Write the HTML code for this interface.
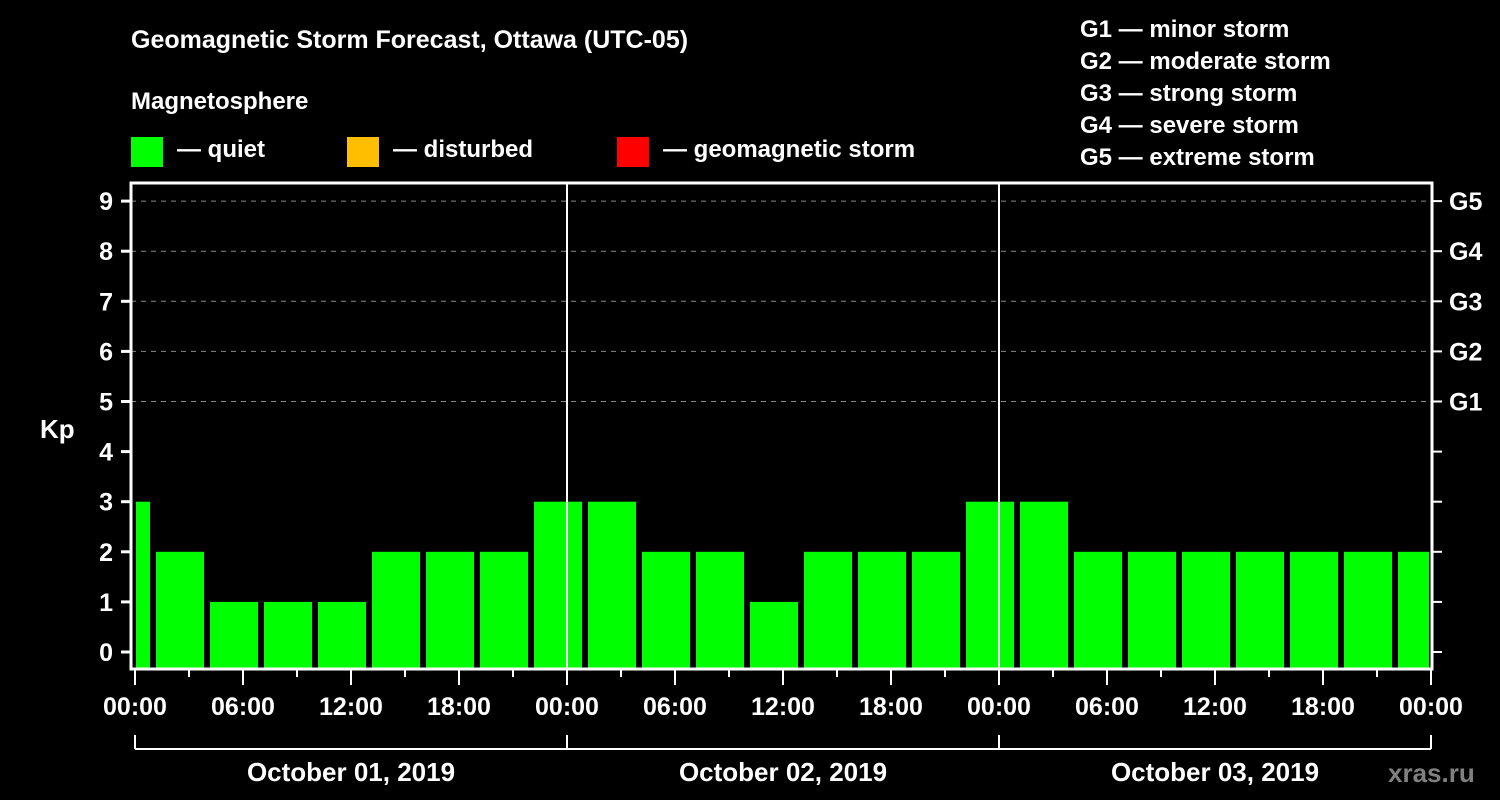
<!DOCTYPE html>
<html><head><meta charset="utf-8"><style>
html,body{margin:0;padding:0;background:#000;width:1500px;height:800px;overflow:hidden}
svg{display:block;font-family:"Liberation Sans",Arial,sans-serif;font-weight:bold}
</style></head><body>
<svg id="chart" width="1500" height="800" viewBox="0 0 1500 800">
<text x="131" y="48" fill="#fff" font-size="25">Geomagnetic Storm Forecast, Ottawa (UTC-05)</text>
<text x="131" y="109" fill="#fff" font-size="24">Magnetosphere</text>
<g><rect x="131" y="137" width="32" height="30" fill="#00ff00"/><text x="177" y="157" fill="#fff" font-size="24">— quiet</text></g>
<g><rect x="347" y="137" width="32" height="30" fill="#ffbf00"/><text x="393" y="157" fill="#fff" font-size="24">— disturbed</text></g>
<g><rect x="617" y="137" width="32" height="30" fill="#ff0000"/><text x="663" y="157" fill="#fff" font-size="24">— geomagnetic storm</text></g>
<g fill="#fff" font-size="24">
<text x="1080" y="37">G1 — minor storm</text>
<text x="1080" y="69">G2 — moderate storm</text>
<text x="1080" y="101">G3 — strong storm</text>
<text x="1080" y="133">G4 — severe storm</text>
<text x="1080" y="165">G5 — extreme storm</text>
</g>
<text x="40" y="438" fill="#fff" font-size="26">Kp</text>
<text x="1388" y="782" fill="#808080" font-size="26">xras.ru</text>
<g id="plot"></g>
</svg>
<script>
const kpValues=[3,2,1,1,1,2,2,2,3,3,2,2,1,2,2,2,3,3,2,2,2,2,2,2,2];
const yTicks=[0,1,2,3,4,5,6,7,8,9];
const gLabels=["G1","G2","G3","G4","G5"];
const gLevels=[5,6,7,8,9];
const timeLabels=["00:00","06:00","12:00","18:00","00:00","06:00","12:00","18:00","00:00","06:00","12:00","18:00","00:00"];
const dayLabels=["October 01, 2019","October 02, 2019","October 03, 2019"];

const X0=135,PXH=18,Y0=652,PXU=50.1;
const xs=h=>X0+h*PXH;
const ys=v=>Y0-v*PXU;
const L=131,R=1432,T=183,B=669;
const g=document.getElementById('plot');
const NS='http://www.w3.org/2000/svg';
function mk(tag,attrs){const e=document.createElementNS(NS,tag);for(const k in attrs)e.setAttribute(k,attrs[k]);g.appendChild(e);return e;}
// grid
gLevels.forEach(v=>{const e=mk('line',{x1:L,x2:R,y1:ys(v),y2:ys(v),stroke:'#888','stroke-width':1,'stroke-dasharray':'5,5'});

});
// bars
kpValues.forEach((v,k)=>{let x1=xs(3*k-1.833),x2=xs(3*k+0.833);x1=Math.max(x1,X0+1);x2=Math.min(x2,1429);
const e=mk('rect',{x:x1,y:ys(v),width:x2-x1,height:B-ys(v),fill:'#00ff00'});

});
// day separators
[24,48].forEach(h=>{const e=mk('line',{x1:xs(h),x2:xs(h),y1:T,y2:B,stroke:'#fff','stroke-width':2});

});
// frame
const fr=mk('rect',{x:L,y:T,width:R-L,height:B-T,fill:'none',stroke:'#fff','stroke-width':3});


// y ticks
yTicks.forEach(v=>{mk('line',{x1:L-10,x2:L,y1:ys(v),y2:ys(v),stroke:'#fff','stroke-width':3});
mk('line',{x1:R,x2:R+10,y1:ys(v),y2:ys(v),stroke:'#fff','stroke-width':2});
const t=mk('text',{x:L-18,y:ys(v)+9,fill:'#fff','font-size':25,'text-anchor':'end'});t.textContent=v;

});
gLabels.forEach((s,i)=>{const t=mk('text',{x:1449,y:ys(gLevels[i])+9,fill:'#fff','font-size':25});t.textContent=s;

});
// x ticks
for(let h=0;h<=72;h+=3){const major=h%6===0;mk('line',{x1:xs(h),x2:xs(h),y1:B,y2:B+(major?16:8),stroke:'#fff','stroke-width':2});}
timeLabels.forEach((s,i)=>{const t=mk('text',{x:xs(i*6),y:715,fill:'#fff','font-size':25,'text-anchor':'middle'});t.textContent=s;

});
// day bracket
mk('line',{x1:xs(0),x2:xs(72),y1:749,y2:749,stroke:'#fff','stroke-width':2});
[0,24,48,72].forEach(h=>mk('line',{x1:xs(h),x2:xs(h),y1:735,y2:749,stroke:'#fff','stroke-width':2}));
dayLabels.forEach((s,i)=>{const t=mk('text',{x:xs(i*24+12),y:781,fill:'#fff','font-size':26,'text-anchor':'middle'});t.textContent=s;

});
</script>
</body></html>
